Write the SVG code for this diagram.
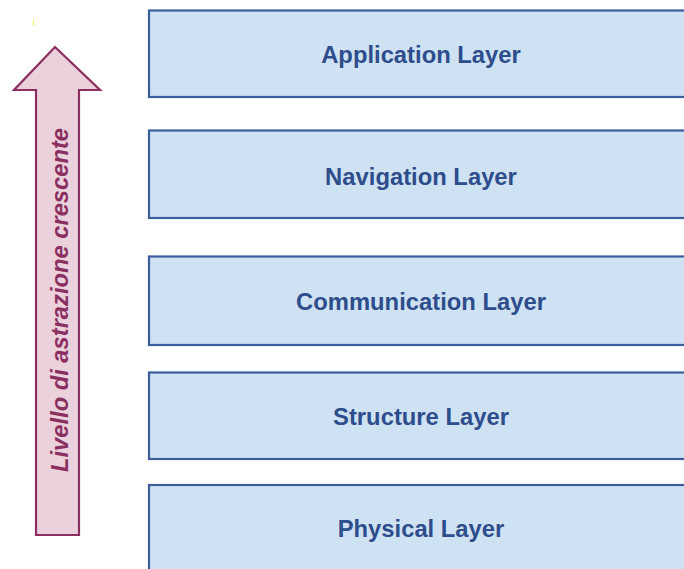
<svg xmlns="http://www.w3.org/2000/svg" width="684" height="569" viewBox="0 0 684 569">
  <style>
    .layer rect { fill: #cfe2f3; stroke: #3b5d9c; stroke-width: 2.2; }
    .layer text { font-family: "Liberation Sans", Arial, sans-serif; font-weight: bold; font-size: 23.8px; fill: #2d4d8c; text-anchor: middle; }
    .arrow-shape { fill: #ead1dc; stroke: #8b2f60; stroke-width: 2.2; stroke-linejoin: miter; }
    .arrow-label { font-family: "Liberation Sans", Arial, sans-serif; font-style: italic; font-weight: bold; font-size: 23px; fill: #8b2f60; text-anchor: middle; }
  </style>
  <rect width="684" height="569" fill="#ffffff"/>

  <!-- upward arrow: increasing abstraction -->
  <g id="abstraction-arrow">
    <path class="arrow-shape" d="M55,47 L100,90 L79,90 L79,535 L36,535 L36,90 L14,90 Z"/>
    <text class="arrow-label" transform="translate(68,300) rotate(-90)" textLength="344" lengthAdjust="spacingAndGlyphs">Livello di astrazione crescente</text>
  </g>
  <line x1="33.5" y1="19" x2="33.5" y2="26" stroke="#f5f07a" stroke-width="1.2"/>

  <!-- layer stack -->
  <g id="application-layer" class="layer">
    <rect x="149" y="10.5" width="545" height="86.5"/>
    <text x="421" y="62.5">Application Layer</text>
  </g>
  <g id="navigation-layer" class="layer">
    <rect x="149" y="130.5" width="545" height="87.5"/>
    <text x="421" y="184.5">Navigation Layer</text>
  </g>
  <g id="communication-layer" class="layer">
    <rect x="149" y="256.5" width="545" height="88.5"/>
    <text x="421" y="309.5">Communication Layer</text>
  </g>
  <g id="structure-layer" class="layer">
    <rect x="149" y="372.5" width="545" height="86.5"/>
    <text x="421" y="424.5">Structure Layer</text>
  </g>
  <g id="physical-layer" class="layer">
    <rect x="149" y="485" width="545" height="100"/>
    <text x="421" y="537">Physical Layer</text>
  </g>

  <g id="connectors"/>
</svg>
